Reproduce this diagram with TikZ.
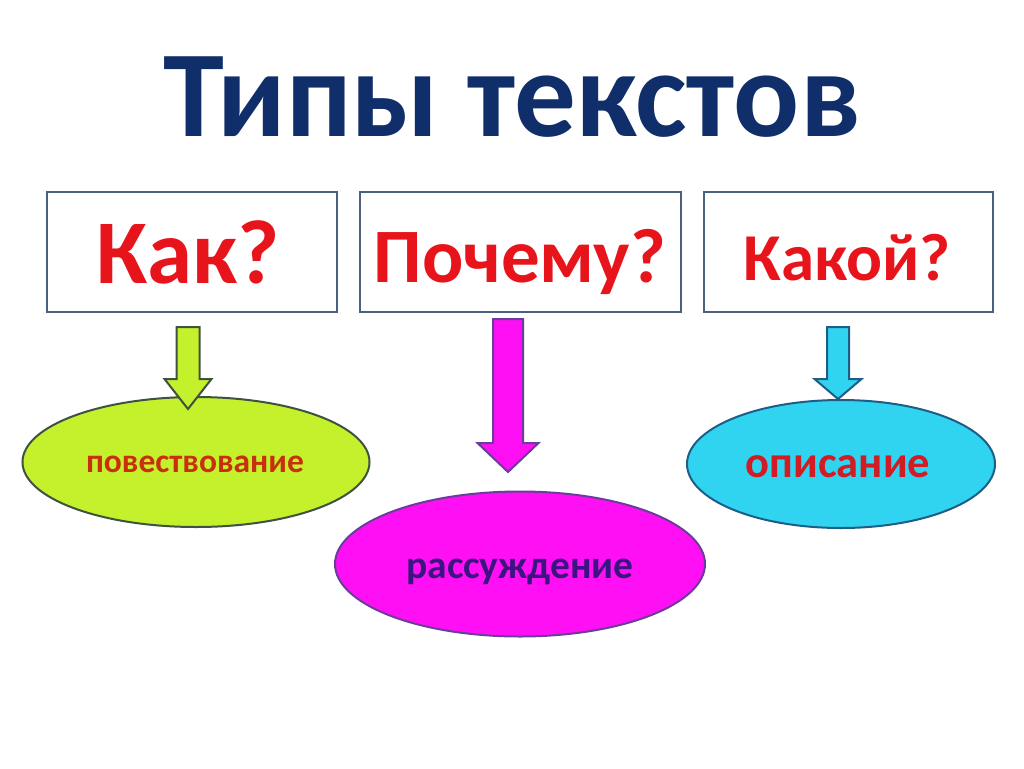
\documentclass[tikz,border=0pt]{standalone}
\usepackage{fontspec}
\setmainfont{Carlito}
\usetikzlibrary{shapes.geometric}
\definecolor{titleblue}{HTML}{102E6A}
\definecolor{qred}{HTML}{E8141C}
\definecolor{boxedge}{HTML}{4A6280}
\definecolor{limefill}{HTML}{C4F02C}
\definecolor{limeedge}{HTML}{3E5240}
\definecolor{magfill}{HTML}{FF10F4}
\definecolor{magedge}{HTML}{6A3C9C}
\definecolor{cyanfill}{HTML}{30D4F0}
\definecolor{cyanedge}{HTML}{1E5E86}
\definecolor{txtorange}{HTML}{C8300C}
\definecolor{txtpurple}{HTML}{3A1480}
\definecolor{txtred}{HTML}{D01C24}
\tikzset{
  qbox/.style={draw=boxedge, line width=2.8pt, fill=white, inner sep=0pt},
  qtext/.style={text=qred, font=\bfseries, anchor=base, inner sep=0pt},
  oval/.style={ellipse, line width=2pt, inner sep=0pt},
  ovaltext/.style={font=\bfseries, anchor=base, inner sep=0pt},
  barrow/.style={line width=2pt, line join=miter},
}
\newcommand{\blockarrow}[8]{%
  % #1 center x, #2 top y, #3 head start y, #4 tip y, #5 shaft half, #6 head half, #7 fill, #8 draw
  \filldraw[barrow, fill=#7, draw=#8]
    (#1-#5,#2) -- (#1+#5,#2) -- (#1+#5,#3) -- (#1+#6,#3) -- (#1,#4)
    -- (#1-#6,#3) -- (#1-#5,#3) -- cycle;
}
\begin{document}
\begin{tikzpicture}[x=1pt,y=-1pt]
\useasboundingbox (0,0) rectangle (1024,768);
\fill[white] (0,0) rectangle (1024,768);

% title
\node[text=titleblue, font=\bfseries\fontsize{123}{130}\selectfont, anchor=base, inner sep=0pt] (title) at (512,136) {Типы текстов};

% boxes
\draw[qbox] (47,192) rectangle (337,312);
\draw[qbox] (360,192) rectangle (681,312);
\draw[qbox] (704,192) rectangle (993,312);
\node[qtext, font=\bfseries\fontsize{91}{100}\selectfont] (q1) at (188,283) {Как?};
\node[qtext, font=\bfseries\fontsize{77}{85}\selectfont] (q2) at (520,282) {Почему?};
\node[qtext, font=\bfseries\fontsize{67}{75}\selectfont] (q3) at (847,280) {Какой?};

% ellipses
\node[oval, draw=limeedge, fill=limefill, minimum width=347pt, minimum height=130pt] (e1) at (196,462) {};
\node[oval, draw=magedge, fill=magfill, minimum width=370pt, minimum height=145pt] (e2) at (520,564) {};
\node[oval, draw=cyanedge, fill=cyanfill, minimum width=308pt, minimum height=128pt] (e3) at (841,464) {};

% arrows
\blockarrow{188}{327}{379}{409}{11.5}{23.5}{limefill}{limeedge}
\blockarrow{508}{319}{443}{472}{15}{30.5}{magfill}{magedge}
\blockarrow{838}{327}{379}{399}{11}{23.5}{cyanfill}{cyanedge}

% ellipse labels
\node[ovaltext, text=txtorange, font=\bfseries\fontsize{33.5}{38}\selectfont] (t1) at (195,472) {повествование};
\node[ovaltext, text=txtpurple, font=\bfseries\fontsize{39.5}{44}\selectfont] (t2) at (520,578) {рассуждение};
\node[ovaltext, text=txtred, font=\bfseries\fontsize{44.5}{48}\selectfont] (t3) at (838,477) {описание};
\end{tikzpicture}
\end{document}
